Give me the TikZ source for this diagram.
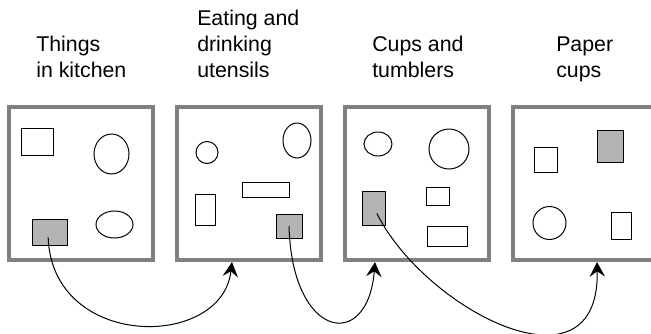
\documentclass[tikz,border=0pt]{standalone}
\usepackage{fontspec}
\setmainfont{Liberation Sans}
\usepackage{xcolor}
\definecolor{frame}{RGB}{128,128,128}
\definecolor{item}{RGB}{180,180,180}
\usepackage{tikz}
\usetikzlibrary{arrows.meta,shapes.geometric}

\begin{document}
\begin{tikzpicture}[
  x=0.75pt, y=-0.75pt,
  panel/.style={rectangle,draw=frame,line width=3pt,minimum width=108pt,minimum height=114.75pt,inner sep=0pt},
  wbox/.style={rectangle,draw,line width=0.75pt,fill=white,inner sep=0pt},
  gbox/.style={rectangle,draw,line width=0.75pt,fill=item,inner sep=0pt},
  oval/.style={ellipse,draw,line width=0.75pt,inner sep=0pt},
  ring/.style={circle,draw,line width=0.75pt,inner sep=0pt},
  title/.style={anchor=base west,align=left,inner sep=0pt,font=\fontsize{16}{19.5}\selectfont},
  arrow/.style={-{Stealth[length=11pt,width=11.5pt,inset=4pt]},line width=0.75pt}
]
  \clip (0,0) rectangle (651,333);

  % === Titles ===
  \node[title] (t1) at (36,77) {Things\\in kitchen};
  \node[title] (t2) at (197,77) {Eating and\\drinking\\utensils};
  \node[title] (t3) at (372,77) {Cups and\\tumblers};
  \node[title] (t4) at (556,77) {Paper\\cups};

  % === Panels ===
  \node[panel] (p1) at (81,183.5) {};
  \node[panel] (p2) at (249,183.5) {};
  \node[panel] (p3) at (417,183.5) {};
  \node[panel] (p4) at (585,183.5) {};

  % panel 1
  \node[wbox,minimum width=24pt,minimum height=20.25pt] (w11) at (37,141.5) {};
  \node[oval,minimum width=26.25pt,minimum height=30pt] (o11) at (111.5,154) {};
  \node[gbox,minimum width=26.25pt,minimum height=19.5pt] (g1) at (49.5,232) {};
  \node[oval,minimum width=27.75pt,minimum height=20.25pt] (o12) at (114.5,224.5) {};

  % panel 2
  \node[ring,minimum size=16.5pt] (c21) at (207,152.5) {};
  \node[oval,minimum width=21pt,minimum height=26.25pt] (o21) at (297,140.5) {};
  \node[wbox,minimum width=35.25pt,minimum height=11.25pt] (w21) at (265.5,189.5) {};
  \node[wbox,minimum width=15pt,minimum height=23.25pt] (w22) at (205,209.5) {};
  \node[gbox,minimum width=19.5pt,minimum height=18pt] (g2) at (289,226) {};

  % panel 3
  \node[oval,minimum width=21pt,minimum height=18pt] (o31) at (378,144) {};
  \node[ring,minimum size=30pt] (c31) at (449,149) {};
  \node[gbox,minimum width=17.25pt,minimum height=25.5pt] (g3) at (373.5,208) {};
  \node[wbox,minimum width=17.25pt,minimum height=13.5pt] (w31) at (437.5,196) {};
  \node[wbox,minimum width=30pt,minimum height=15pt] (w32) at (447,236) {};

  % panel 4
  \node[wbox,minimum width=17.25pt,minimum height=18.75pt] (w41) at (545.5,159.5) {};
  \node[gbox,minimum width=19.5pt,minimum height=24pt] (g4) at (610,146) {};
  \node[ring,minimum size=24.75pt] (c41) at (549.5,223) {};
  \node[wbox,minimum width=15pt,minimum height=20.25pt] (w42) at (621,225.5) {};

  % === Moves between panels ===
  \draw[arrow] ([xshift=-1pt,yshift=-4pt]g1.center) .. controls (52,350) and (222,350) .. ([xshift=-12.75pt]p2.south);
  \draw[arrow] (g2.center) .. controls (292,340) and (368,352) .. ([xshift=-31.5pt]p3.south);
  \draw[arrow] ([xshift=2.5pt,yshift=-4pt]g3.center) .. controls (425,310) and (600,400) .. ([xshift=9pt]p4.south);
\end{tikzpicture}
\end{document}
